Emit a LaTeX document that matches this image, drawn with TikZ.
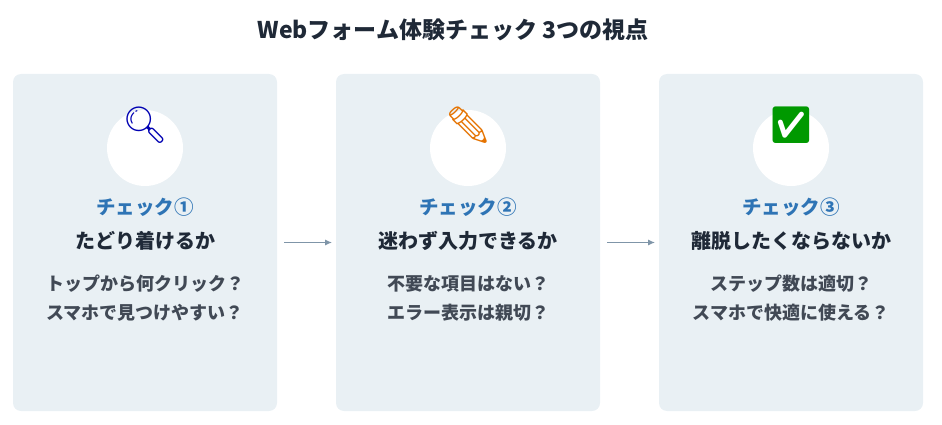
\documentclass[tikz,border=0pt]{standalone}
\usepackage{fontspec}
\setmainfont{Noto Sans CJK JP}
\newfontfamily\emoji{Noto Emoji}
\usetikzlibrary{arrows.meta}
\definecolor{panel}{HTML}{E9F0F4}
\definecolor{ttl}{HTML}{1F2937}
\definecolor{chk}{HTML}{2E74B5}
\definecolor{arr}{HTML}{7F95A8}
\begin{document}
\begin{tikzpicture}[x=1pt,y=-1pt,
 panelbox/.style={fill=panel,rounded corners=8pt,minimum width=264pt,minimum height=337pt,inner sep=0},
 disc/.style={circle,fill=white,minimum size=76pt,inner sep=0},
 chktxt/.style={font=\fontsize{19.5}{22}\selectfont\bfseries,text=chk},
 subtxt/.style={font=\fontsize{20}{22}\selectfont\bfseries,text=ttl},
 bodytxt/.style={font=\fontsize{18}{29}\selectfont\bfseries,text=ttl!85,align=center},
 icon/.style={font=\emoji\fontsize{36}{36}\selectfont},
 conn/.style={draw=arr,line width=1.4pt,-{Latex[length=7pt,width=6pt]}}]
\useasboundingbox (0,0) rectangle (942,425);
\node[font=\fontsize{23}{26}\selectfont\bfseries,text=ttl] (title) at (453,30) {Webフォーム体験チェック 3つの視点};
\foreach \i/\x/\c/\e/\s/\b/\ic in {1/145/①/🔍/たどり着けるか/トップから何クリック？\\スマホで見つけやすい？/blue!70!black,
 2/468/②/✏️/迷わず入力できるか/不要な項目はない？\\エラー表示は親切？/orange!90!black,
 3/791/③/✅/離脱したくならないか/ステップ数は適切？\\スマホで快適に使える？/green!60!black}{
 \node[panelbox] (p\i) at (\x,242.5) {};
 \node[disc] (d\i) at (\x,148) {};
 \node[icon,text=\ic] (e\i) at (\x,125) {\e};
 \node[chktxt] (c\i) at (\x,207) {チェック\c};
 \node[subtxt] (s\i) at (\x,241) {\s};
 \node[bodytxt] (b\i) at (\x,298.5) {\b};
}
\draw[conn] (p1.east) ++(7,0) coordinate (a1) -- ++(48,0) coordinate (a2);
\draw[conn] (p2.east) ++(7,0) coordinate (a3) -- ++(48,0) coordinate (a4);
\end{tikzpicture}
\end{document}
